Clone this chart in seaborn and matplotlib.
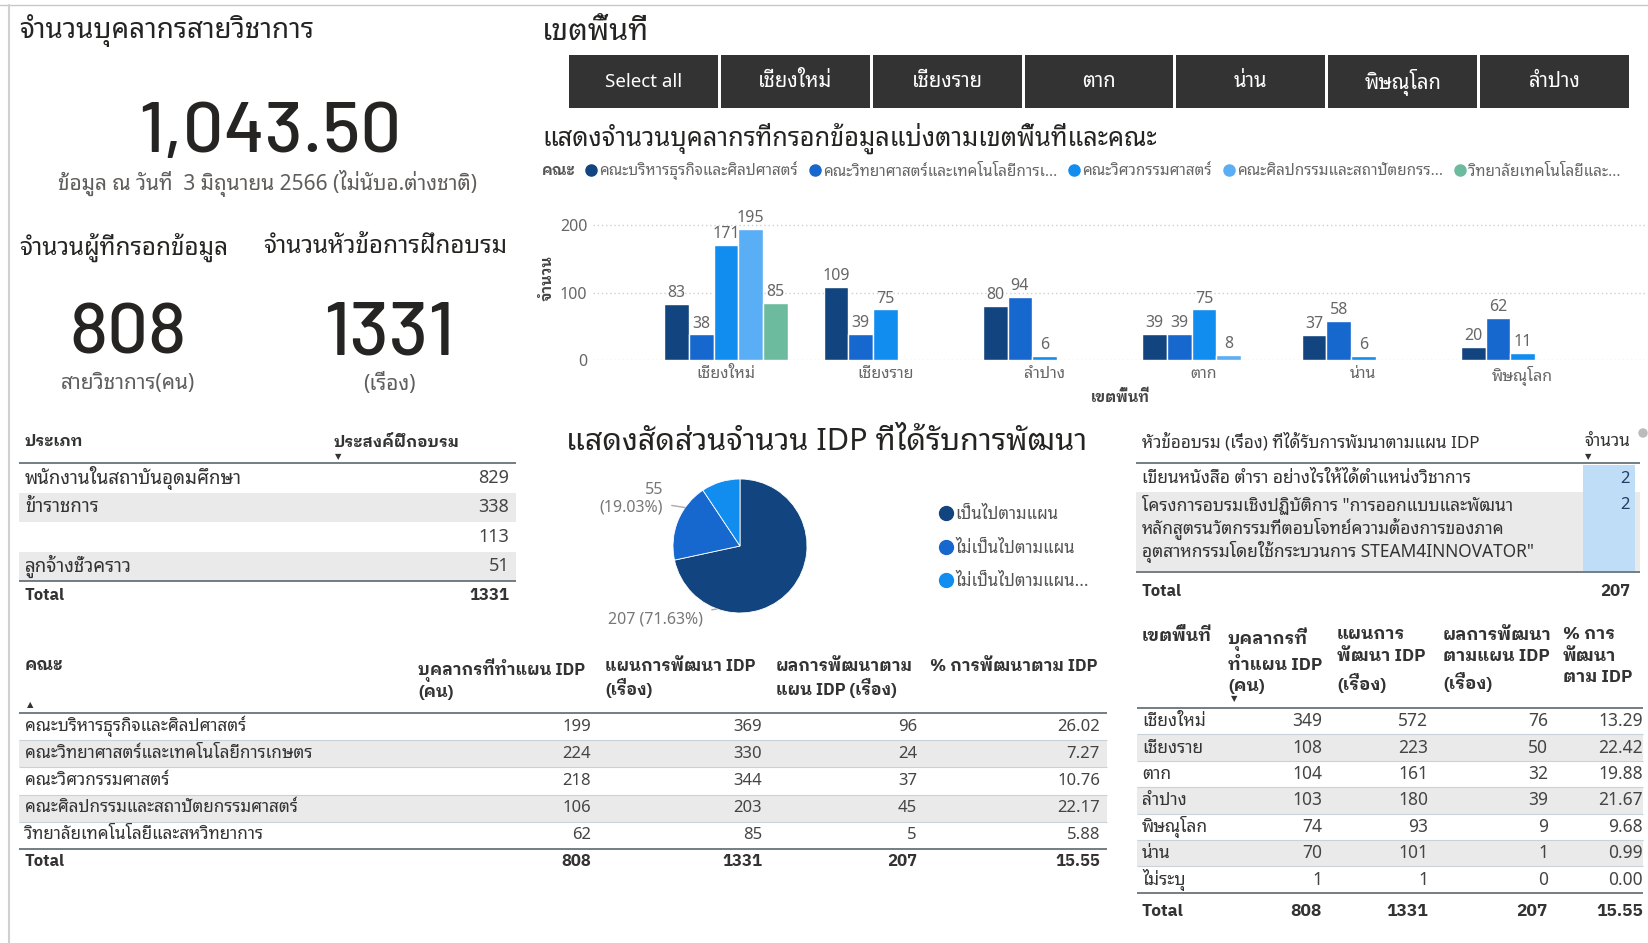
import numpy as np
import pandas as pd
import matplotlib.pyplot as plt
from matplotlib.patches import Rectangle
from matplotlib.lines import Line2D
import seaborn as sns

# ---------------- data ----------------
regions = ['เชียงใหม่', 'เชียงราย', 'ลำปาง', 'ตาก', 'น่าน', 'พิษณุโลก']
faculties = ['คณะบริหารธุรกิจและศิลปศาสตร์', 'คณะวิทยาศาสตร์และเทคโนโลยีการเกษตร',
             'คณะวิศวกรรมศาสตร์', 'คณะศิลปกรรมและสถาปัตยกรรมศาสตร์',
             'วิทยาลัยเทคโนโลยีและสหวิทยาการ']
faculty_legend = ['คณะบริหารธุรกิจและศิลปศาสตร์', 'คณะวิทยาศาสตร์และเทคโนโลยีการเ...',
                  'คณะวิศวกรรมศาสตร์', 'คณะศิลปกรรมและสถาปัตยกรร...', 'วิทยาลัยเทคโนโลยีและ...']
fac1 = [83, 109, 80, 39, 37, 20]
fac2 = [38, 39, 94, 39, 58, 62]
fac3 = [171, 75, 6, 75, 6, 11]
fac4 = [195, np.nan, np.nan, 8, np.nan, np.nan]
fac5 = [85, np.nan, np.nan, np.nan, np.nan, np.nan]
bar_colors = ['#12457F', '#1667CE', '#118DF0', '#5AAEF5', '#6DBB9E']

slicer_items = ['Select all', 'เชียงใหม่', 'เชียงราย', 'ตาก', 'น่าน', 'พิษณุโลก', 'ลำปาง']

pie_labels = ['เป็นไปตามแผน', 'ไม่เป็นไปตามแผน', 'ไม่เป็นไปตามแผน...']
pie_values = [207, 55, 27]
pie_colors = ['#12457F', '#1667CE', '#118DF0']

kpi_staff = '1,043.50'
kpi_filled = '808'
kpi_topics = '1331'

type_names = ['พนักงานในสถาบันอุดมศึกษา', 'ข้าราชการ', '', 'ลูกจ้างชั่วคราว']
type_counts = [829, 338, 113, 51]
type_total = 1331

topic_names = ['เขียนหนังสือ ตำรา อย่างไรให้ได้ตำแหน่งวิชาการ',
               'โครงการอบรมเชิงปฏิบัติการ "การออกแบบและพัฒนา\n'
               'หลักสูตรนวัตกรรมที่ตอบโจทย์ความต้องการของภาค\n'
               'อุตสาหกรรมโดยใช้กระบวนการ STEAM4INNOVATOR"']
topic_counts = [2, 2]
topic_total = 207

fac_staff = [199, 224, 218, 106, 62]
fac_plan = [369, 330, 344, 203, 85]
fac_done = [96, 24, 37, 45, 5]
fac_pct = [26.02, 7.27, 10.76, 22.17, 5.88]
fac_totals = ['808', '1331', '207', '15.55']

reg_names = ['เชียงใหม่', 'เชียงราย', 'ตาก', 'ลำปาง', 'พิษณุโลก', 'น่าน', 'ไม่ระบุ']
reg_staff = [349, 108, 104, 103, 74, 70, 1]
reg_plan = [572, 223, 161, 180, 93, 101, 1]
reg_done = [76, 50, 32, 39, 9, 1, 0]
reg_pct = [13.29, 22.42, 19.88, 21.67, 9.68, 0.99, 0.00]
reg_totals = ['808', '1331', '207', '15.55']

# ---------------- style ----------------
sns.set_theme(style='white')
plt.rcParams['font.family'] = ['Noto Sans', 'Noto Sans Thai Looped', 'DejaVu Sans']
BOLD_FONT = ['IBM Plex Sans Thai Looped', 'DejaVu Sans']
KPI_FONT = ['Barlow', 'Roboto Condensed', 'DejaVu Sans']
DARK = '#252423'
GREY = '#605E5C'
W, H = 1649, 943

fig = plt.figure(figsize=(W / 100, H / 100), dpi=100)
bg = fig.add_axes([0, 0, 1, 1])
bg.set_xlim(0, W)
bg.set_ylim(H, 0)
bg.axis('off')


def txt(x, y, s, size=11, ha='left', va='center', color='#333333', weight='normal', **kw):
    if weight == 'bold' and 'family' not in kw:
        kw['family'] = BOLD_FONT
    bg.text(x, y, s, fontsize=size, ha=ha, va=va, color=color, fontweight=weight, **kw)


def hline(y, x0, x1, color='#5B6770', lw=1.2):
    bg.plot([x0, x1], [y, y], color=color, lw=lw, solid_capstyle='butt')


def band(y0, y1, x0, x1, color='#EAEAEA'):
    bg.add_patch(Rectangle((x0, y0), x1 - x0, y1 - y0, color=color, lw=0, zorder=0))


# page border
bg.plot([0, W], [5, 5], color='#C8C8C8', lw=1)
bg.plot([9, 9], [5, H], color='#D0D0D0', lw=1.5)

# ---------------- KPI cards ----------------
txt(19, 31, 'จำนวนบุคลากรสายวิชาการ', size=20, color=DARK)
txt(270, 134, kpi_staff, size=52, ha='center', color=DARK, family=KPI_FONT, weight=500)
txt(268, 183, 'ข้อมูล ณ วันที่  3 มิถุนายน 2566 (ไม่นับอ.ต่างชาติ)', size=15, ha='center', color=GREY)
txt(19, 247, 'จำนวนผู้ที่กรอกข้อมูล', size=17.5, color=DARK)
txt(263, 247, 'จำนวนหัวข้อการฝึกอบรม', size=17.5, color=DARK)
txt(128, 335, kpi_filled, size=52, ha='center', color=DARK, family=KPI_FONT, weight=500)
txt(389, 335, kpi_topics, size=54, ha='center', color=DARK, family=KPI_FONT, weight=500)
txt(128, 384, 'สายวิชาการ(คน)', size=15, ha='center', color=GREY)
txt(389, 384, '(เรื่อง)', size=15, ha='center', color=GREY)

# ---------------- type table ----------------
txt(25, 442, 'ประเภท', size=11.5, weight='bold')
txt(334, 442, 'ประสงค์ฝึกอบรม', size=11.5, weight='bold')
txt(338, 457, '▼', size=6, ha='center')
hline(463, 19, 516)
row_h = 29.5
for i, (n, v) in enumerate(zip(type_names, type_counts)):
    yc = 463 + row_h * (i + 0.5)
    if i % 2 == 1:
        band(yc - row_h / 2, yc + row_h / 2, 19, 516)
    txt(25, yc, n, size=13.5)
    txt(509, yc, str(v), size=13, ha='right', color='#444444')
hline(463 + row_h * 4, 19, 516)
txt(25, 596, 'Total', size=12, weight='bold')
txt(509, 596, str(type_total), size=12, ha='right', weight='bold')

# ---------------- slicer ----------------
txt(542, 32, 'เขตพื้นที่', size=22, color=DARK)
sx0, sx1, gap = 569, 1629, 3
bw = (sx1 - sx0 - gap * (len(slicer_items) - 1)) / len(slicer_items)
for i, s in enumerate(slicer_items):
    x = sx0 + i * (bw + gap)
    bg.add_patch(Rectangle((x, 55), bw, 53, color='#333333', lw=0))
    txt(x + bw / 2, 82, s, size=13.5 if i == 0 else 14.5, ha='center', color='white')

# ---------------- clustered bar chart ----------------
txt(542, 138, 'แสดงจำนวนบุคลากรที่กรอกข้อมูลแบ่งตามเขตพื้นที่และคณะ', size=18.3, color=DARK)
txt(542, 171, 'คณะ', size=10.5, color='#555555', weight='bold')
handles = [Line2D([], [], marker='o', ls='', color=c, markersize=8) for c in bar_colors]
fig.legend(handles, faculty_legend, loc='center left', bbox_to_anchor=(583 / W, 1 - 171 / H),
           ncol=5, frameon=False, fontsize=11, handletextpad=0.05, columnspacing=0.6,
           labelcolor='#666666', borderaxespad=0, borderpad=0, handlelength=1.0)

df = pd.DataFrame({
    'เขตพื้นที่': regions * 5,
    'คณะ': np.repeat(faculties, len(regions)),
    'จำนวน': fac1 + fac2 + fac3 + fac4 + fac5,
}).dropna()

axb = fig.add_axes([593 / W, 1 - 360 / H, 1054 / W, 155 / H])
sns.barplot(data=df, x='เขตพื้นที่', y='จำนวน', hue='คณะ', order=regions, hue_order=faculties,
            palette=bar_colors, saturation=1, width=0.775, errorbar=None, legend=False, ax=axb)
for cont in axb.containers:
    axb.bar_label(cont, fmt='%d', padding=2, fontsize=11.5, color='#666666')
axb.set_xlim(-0.834, 5.78)
axb.set_ylim(0, 230)
axb.set_yticks([0, 100, 200])
axb.yaxis.grid(True, linestyle=(0, (1, 2)), color='#CFCFCF', lw=1)
axb.set_axisbelow(True)
sns.despine(ax=axb, left=True, bottom=True)
axb.tick_params(length=0, labelsize=11.5, colors='#666666', pad=4)
axb.set_ylabel('จำนวน', fontsize=10.5, color='#444444', fontweight='bold', fontfamily=BOLD_FONT)
axb.set_xlabel('เขตพื้นที่', fontsize=10.5, color='#444444', fontweight='bold', fontfamily=BOLD_FONT)
axb.yaxis.set_label_coords(-0.036, 0.53)
axb.xaxis.set_label_coords(0.5, -0.19)
axb.patch.set_alpha(0)

# ---------------- pie ----------------
txt(566, 442, 'แสดงสัดส่วนจำนวน IDP ที่ได้รับการพัฒนา', size=22, color=DARK)
R = 67
pcx, pcy = 740, 546
axp = fig.add_axes([(pcx - 1.25 * R) / W, 1 - (pcy + 1.25 * R) / H, 2.5 * R / W, 2.5 * R / H])
wedges, _ = axp.pie(pie_values, colors=pie_colors, startangle=90, counterclock=False,
                    wedgeprops=dict(edgecolor='white', linewidth=0.6))
total = sum(pie_values)
ann = [(0, 250, 703, 619, '{v} ({p:.2f}%)'), (1, 145, 663, 499, '{v}\n({p:.2f}%)')]
for idx, ang, tx, ty, fmt in ann:
    v = pie_values[idx]
    a = np.deg2rad(ang)
    axp.annotate(fmt.format(v=v, p=v / total * 100), xy=(np.cos(a), np.sin(a)), xycoords='data',
                 xytext=(tx, ty), textcoords=bg.transData, ha='right', va='center',
                 fontsize=11.5, color='#777777', linespacing=1.15,
                 arrowprops=dict(arrowstyle='-', color='#AAAAAA', lw=1, shrinkA=4, shrinkB=0))
ph = [Line2D([], [], marker='o', ls='', color=c, markersize=10) for c in pie_colors]
fig.legend(ph, pie_labels, loc='upper left', bbox_to_anchor=(938 / W, 1 - 507 / H),
           frameon=False, fontsize=12, labelcolor='#555555', handletextpad=0.05,
           labelspacing=1.05, borderaxespad=0, borderpad=0, handlelength=1.0)

# ---------------- topic table ----------------
txt(1142, 442, 'หัวข้ออบรม (เรื่อง) ที่ได้รับการพัมนาตามแผน IDP', size=12.3, color='#333333')
txt(1630, 442, 'จำนวน', size=12.3, ha='right')
txt(1588, 457, '▼', size=6, ha='center')
bg.add_patch(plt.Circle((1643, 433), 4, color='#BBBBBB'))
hline(463, 1136, 1640)
band(492, 571, 1136, 1640)
bg.add_patch(Rectangle((1583, 465), 52, 106, color='#BFDDF7', lw=0, zorder=0.5))
topic_y = [479, 505]
for n, v, y in zip(topic_names, topic_counts, topic_y):
    txt(1142, y - 10, n, size=12.5, va='top', linespacing=1.12)
    txt(1630, y, str(v), size=12, ha='right', color='#1F3F66')
hline(572, 1136, 1640)
txt(1142, 592, 'Total', size=12, weight='bold')
txt(1630, 592, str(topic_total), size=12, ha='right', weight='bold')

# ---------------- faculty table ----------------
txt(25, 658, 'คณะ', size=12, va='top', weight='bold')
fac_cols = [(418, 591, 'บุคลากรที่ทำแผน IDP\n(คน)'), (605, 762, 'แผนการพัฒนา IDP\n(เรื่อง)'),
            (776, 917, 'ผลการพัฒนาตาม\nแผน IDP (เรื่อง)'), (930, 1100, '% การพัฒนาตาม IDP')]
for xl, xr, h in fac_cols:
    txt(xl, 658, h, size=12, va='top', weight='bold', linespacing=1.25)
txt(30, 705, '▲', size=6, ha='center')
hline(713, 19, 1107)
rh = 27.2
fac_vals = list(zip(fac_staff, fac_plan, fac_done, ['%.2f' % p for p in fac_pct]))
for i, (n, vals) in enumerate(zip(faculties, fac_vals)):
    yc = 713 + rh * (i + 0.5)
    if i % 2 == 1:
        band(yc - rh / 2, yc + rh / 2, 19, 1107)
    if i > 0:
        hline(yc - rh / 2, 19, 1107, color='#C9D2DA', lw=0.8)
    txt(25, yc, n, size=12.3)
    for (xl, xr, _), v in zip(fac_cols, vals):
        txt(xr, yc, str(v), size=12, ha='right', color='#444444')
hline(713 + rh * 5, 19, 1107)
txt(25, 862, 'Total', size=12, weight='bold')
for (xl, xr, _), v in zip(fac_cols, fac_totals):
    txt(xr, 862, v, size=12, ha='right', weight='bold')

# ---------------- region table ----------------
txt(1142, 627, 'เขตพื้นที่', size=12.5, va='top', weight='bold')
reg_cols = [(1228, 1322, 'บุคลากรที่\nทำแผน IDP\n(คน)'), (1337, 1428, 'แผนการ\nพัฒนา IDP\n(เรื่อง)'),
            (1443, 1548, 'ผลการพัฒนา\nตามแผน IDP\n(เรื่อง)'), (1563, 1643, '% การ\nพัฒนา\nตาม IDP')]
for xl, xr, h in reg_cols:
    txt(xl, 627, h, size=12.5, va='top', weight='bold', linespacing=1.5)
txt(1234, 699, '▼', size=6, ha='center')
hline(708, 1137, 1643)
rh2 = 26.4
reg_vals = list(zip(reg_staff, reg_plan, reg_done, ['%.2f' % p for p in reg_pct]))
for i, (n, vals) in enumerate(zip(reg_names, reg_vals)):
    yc = 708 + rh2 * (i + 0.5)
    if i % 2 == 1:
        band(yc - rh2 / 2, yc + rh2 / 2, 1137, 1643)
    if i > 0:
        hline(yc - rh2 / 2, 1137, 1643, color='#C9D2DA', lw=0.8)
    txt(1142, yc, n, size=12.5)
    for (xl, xr, _), v in zip(reg_cols, vals):
        txt(xr, yc, str(v), size=12.5, ha='right', color='#444444')
hline(708 + rh2 * 7, 1137, 1643)
txt(1142, 912, 'Total', size=12.5, weight='bold')
for (xl, xr, _), v in zip(reg_cols, reg_totals):
    txt(xr, 912, v, size=12.5, ha='right', weight='bold')

fig.savefig('out.png', dpi=100)
